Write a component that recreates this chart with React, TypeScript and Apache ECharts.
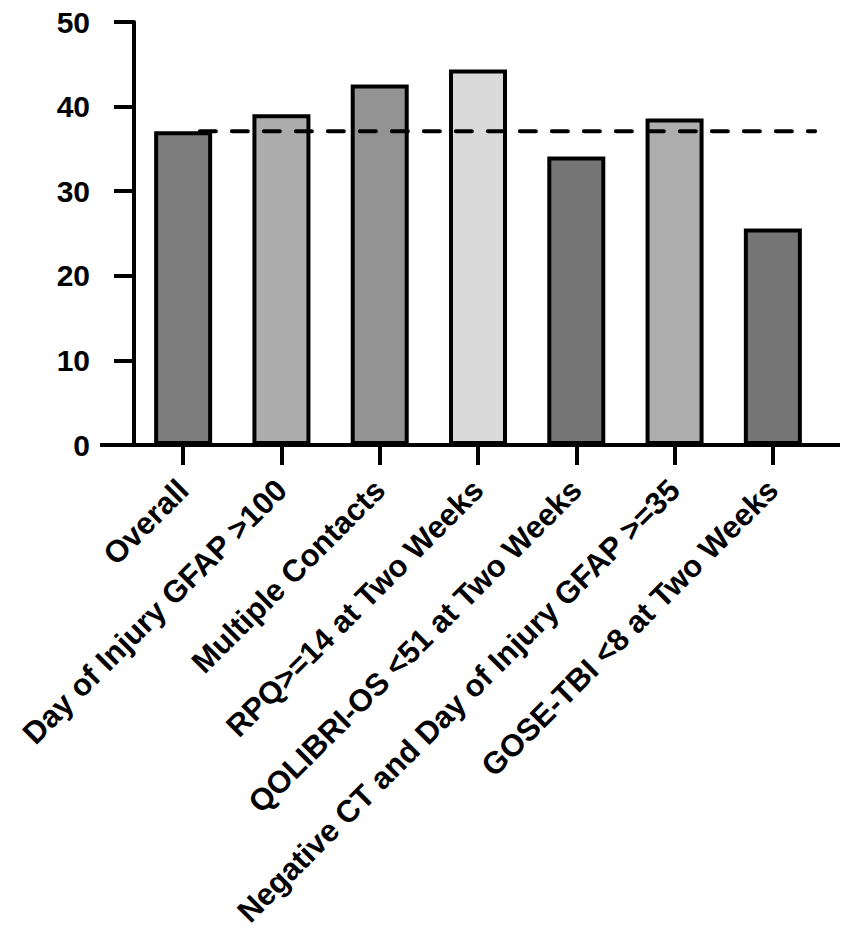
import React, { useEffect, useRef } from "react";
import * as echarts from "echarts";

const categories = [
  "Overall",
  "Day of Injury GFAP >100",
  "Multiple Contacts",
  "RPQ>=14 at Two Weeks",
  "QOLIBRI-OS <51 at Two Weeks",
  "Negative CT and Day of Injury GFAP >=35",
  "GOSE-TBI <8 at Two Weeks",
];
const values = [37.1, 39.1, 42.6, 44.4, 34.1, 38.6, 25.6];
const barColors = ["#7d7d7d", "#acacac", "#939393", "#dadada", "#757575", "#adadad", "#757575"];
const referenceValue = 37.1;

// layout constants
const GRID_LEFT = 134;
const GRID_TOP = 22;
const GRID_W = 688;
const GRID_H = 423;
const REF_START = 0.67; // in category units
const REF_END = 6.93;
const FONT = "'Liberation Sans', Arial, sans-serif";

export default function App() {
  const ref = useRef<HTMLDivElement>(null);
  useEffect(() => {
    if (!ref.current) return;
    const chart = echarts.init(ref.current, null, { renderer: "svg" });
    const zeroY = GRID_TOP + GRID_H;
    chart.setOption({
      animation: false,
      backgroundColor: "#ffffff",
      grid: { left: GRID_LEFT, top: GRID_TOP, width: GRID_W, height: GRID_H },
      xAxis: [
        {
          type: "category",
          data: categories,
          axisLine: { show: false },
          axisTick: { show: true, alignWithLabel: true, length: 20, lineStyle: { color: "#000", width: 4 } },
          axisLabel: {
            interval: 0,
            rotate: 45,
            margin: 40,
            color: "#000",
            fontSize: 31,
            fontWeight: "bold",
            fontFamily: FONT,
          },
        },
        { type: "value", min: 0, max: categories.length, show: false },
      ],
      yAxis: {
        type: "value",
        min: 0,
        max: 50,
        interval: 10,
        offset: 14,
        axisLine: { show: true, lineStyle: { color: "#000", width: 4 } },
        axisTick: { show: true, length: 20, lineStyle: { color: "#000", width: 4 } },
        splitLine: { show: false },
        axisLabel: { margin: 30, color: "#000", fontSize: 30, fontWeight: "bold", fontFamily: FONT },
      },
      graphic: [
        {
          type: "line",
          shape: { x1: 100, y1: zeroY, x2: 840, y2: zeroY },
          style: { stroke: "#000", lineWidth: 4 },
          z: 10,
        },
      ],
      series: [
        {
          type: "bar",
          barWidth: 58,
          data: values.map((v, i) => ({ value: v, itemStyle: { color: barColors[i] } })),
          itemStyle: { borderColor: "#000", borderWidth: 4 },
        },
        {
          type: "line",
          xAxisIndex: 1,
          data: [
            [REF_START, referenceValue],
            [REF_END, referenceValue],
          ],
          symbol: "none",
          lineStyle: { color: "#000", width: 4, type: [16, 16], cap: "round" },
          z: 5,
        },
      ],
    });
    return () => chart.dispose();
  }, []);
  return (
    <div
      ref={ref}
      style={{ position: "fixed", left: 0, top: 0, width: 851, height: 952, background: "#fff" }}
    />
  );
}
